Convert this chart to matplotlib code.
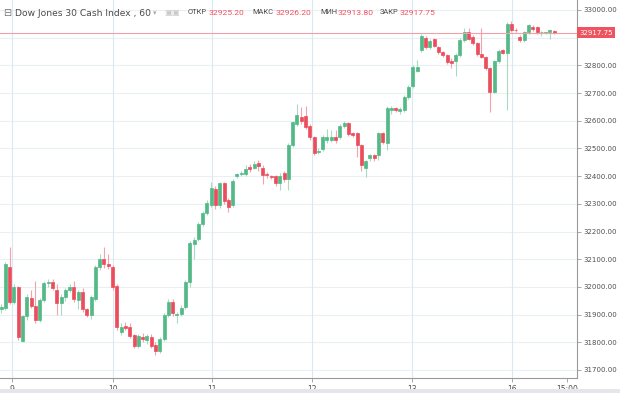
import matplotlib.pyplot as plt
import matplotlib.transforms as mtransforms
from matplotlib.patches import Rectangle

# hourly candles, oldest first
opens = [31920, 31923, 32073, 31947, 32001, 31803, 31895, 31960, 31931, 31881,
         31953, 32013, 32018, 31990, 31941, 31965, 31988, 31998, 31953, 31980,
         31921, 31899, 31955, 32073, 32100, 32083, 32073, 32004, 31836, 31860,
         31855, 31826, 31787, 31820, 31808, 31820, 31790, 31770, 31812, 31899,
         31947, 31900, 31903, 31929, 32019, 32155, 32173, 32227, 32267, 32296,
         32355, 32296, 32375, 32312, 32296, 32400, 32406, 32408, 32433, 32430,
         32447, 32430, 32408, 32400, 32400, 32375, 32411, 32390, 32513, 32588,
         32614, 32617, 32581, 32542, 32488, 32498, 32530, 32532, 32542, 32542,
         32581, 32592, 32555, 32556, 32513, 32430, 32466, 32476, 32477, 32556,
         32520, 32637, 32645, 32636, 32639, 32685, 32726, 32781, 32856, 32898,
         32866, 32894, 32866, 32848, 32838, 32815, 32816, 32838, 32892, 32920,
         32903, 32881, 32841, 32830, 32790, 32704, 32816, 32855, 32845, 32949,
         32928, 32903, 32892, 32920, 32940, 32939, 32920, 32918, 32920, 32925.20]
highs = [31940, 32090, 32145, 32010, 32005, 31900, 31975, 31990, 32020, 31960,
         32020, 32030, 32030, 32010, 31975, 31995, 32010, 32020, 31990, 31995,
         31925, 31970, 32080, 32120, 32145, 32120, 32080, 32010, 31870, 31875,
         31870, 31830, 31830, 31835, 31830, 31830, 31800, 31820, 31905, 31955,
         31955, 31910, 31935, 32025, 32165, 32180, 32235, 32275, 32315, 32380,
         32365, 32380, 32380, 32320, 32390, 32410, 32420, 32440, 32445, 32455,
         32460, 32440, 32415, 32405, 32405, 32410, 32420, 32520, 32600, 32660,
         32650, 32655, 32590, 32545, 32500, 32550, 32570, 32565, 32565, 32590,
         32600, 32595, 32560, 32560, 32515, 32460, 32480, 32480, 32560, 32560,
         32655, 32655, 32650, 32648, 32692, 32730, 32800, 32820, 32912, 32905,
         32895, 32900, 32870, 32852, 32842, 32825, 32845, 32898, 32935, 32935,
         32910, 32885, 32935, 32835, 32795, 32820, 32858, 32860, 32955, 32960,
         32935, 32908, 32925, 32950, 32945, 32942, 32925, 32922, 32930, 32926.20]
lows = [31905, 31915, 31940, 31940, 31810, 31800, 31880, 31925, 31870, 31875,
        31945, 32000, 31990, 31900, 31900, 31950, 31980, 31945, 31920, 31910,
        31890, 31885, 31950, 32060, 32070, 32065, 31990, 31845, 31825, 31845,
        31815, 31780, 31780, 31800, 31795, 31780, 31755, 31760, 31805, 31890,
        31895, 31870, 31895, 31920, 32000, 32100, 32165, 32220, 32260, 32290,
        32280, 32285, 32300, 32270, 32290, 32395, 32400, 32400, 32415, 32425,
        32420, 32370, 32395, 32390, 32365, 32350, 32380, 32350, 32505, 32580,
        32590, 32570, 32530, 32475, 32480, 32490, 32520, 32525, 32520, 32535,
        32575, 32545, 32540, 32470, 32420, 32397, 32455, 32455, 32460, 32515,
        32495, 32625, 32630, 32625, 32630, 32680, 32720, 32775, 32850, 32860,
        32860, 32865, 32840, 32830, 32805, 32790, 32760, 32830, 32885, 32890,
        32875, 32835, 32825, 32785, 32632, 32700, 32810, 32840, 32640, 32920,
        32920, 32885, 32885, 32915, 32925, 32915, 32905, 32912, 32895, 32913.80]
closes = [31928, 32083, 31947, 32001, 31818, 31895, 31965, 31932, 31881, 31953,
          32015, 32018, 31995, 31941, 31965, 31988, 32000, 31955, 31983, 31920,
          31899, 31965, 32073, 32100, 32082, 32076, 31999, 31855, 31855, 31853,
          31823, 31787, 31823, 31812, 31822, 31787, 31768, 31812, 31899, 31947,
          31904, 31902, 31925, 32019, 32160, 32170, 32227, 32267, 32303, 32357,
          32296, 32375, 32310, 32290, 32384, 32406, 32412, 32426, 32426, 32444,
          32436, 32404, 32404, 32397, 32375, 32400, 32390, 32513, 32596, 32621,
          32600, 32578, 32542, 32484, 32492, 32542, 32542, 32540, 32530, 32581,
          32592, 32552, 32548, 32513, 32440, 32455, 32476, 32466, 32556, 32523,
          32645, 32645, 32638, 32641, 32687, 32723, 32794, 32794, 32906, 32866,
          32888, 32870, 32848, 32838, 32812, 32809, 32838, 32892, 32920, 32895,
          32881, 32841, 32830, 32790, 32704, 32816, 32852, 32845, 32949, 32928,
          32926, 32892, 32920, 32946, 32930, 32920, 32921, 32920, 32928, 32917.75]

last_price = 32917.75
day_ticks = [2.6, 26.0, 49.2, 72.5, 95.8, 119.1, 131.9]
day_labels = ["9", "10", "11", "12", "13", "16", "15:00"]
price_ticks = [31700, 31800, 31900, 32000, 32100, 32200, 32300, 32400, 32500,
               32600, 32700, 32800, 33000]
grid_prices = [31700, 31800, 31900, 32000, 32100, 32200, 32300, 32400, 32500,
               32600, 32700, 32800, 32900, 33000]

UP, DOWN = "#53b987", "#eb4d5c"
UP_WICK, DOWN_WICK = "#a6dcc2", "#f4a3ab"
TXT = "#4f4f4f"

fig = plt.figure(figsize=(6.2, 3.93), dpi=100)
ax = fig.add_axes([0, 15 / 393, 577 / 620, 378 / 393])

for p in grid_prices:
    ax.axhline(p, color="#eaeff3", lw=0.8, zorder=0)
for t in day_ticks[:-1]:
    ax.axvline(t, color="#dce8ef", lw=0.8, zorder=0)

for i, (o, h, l, c) in enumerate(zip(opens, highs, lows, closes)):
    up = c >= o
    ax.vlines(i, l, h, color=UP_WICK if up else DOWN_WICK, lw=0.8, zorder=2)
    col = UP if up else DOWN
    ax.bar(i, c - o, bottom=o, width=0.7, color=col, edgecolor=col,
           linewidth=0.5, zorder=3)

ax.axhline(last_price, color="#f2a0a8", lw=0.8, zorder=4)

ax.set_xlim(-0.25, 134.3)
ax.set_ylim(31671, 33036)

for s in ["top", "left"]:
    ax.spines[s].set_visible(False)
for s in ["right", "bottom"]:
    ax.spines[s].set_color("#9a9a9a")
    ax.spines[s].set_linewidth(0.8)

ax.yaxis.tick_right()
ax.set_yticks(price_ticks)
ax.set_yticklabels([f"{p:.2f}" for p in price_ticks])
ax.set_xticks(day_ticks)
ax.set_xticklabels(day_labels)
ax.tick_params(axis="y", length=3, width=0.6, color="#9a9a9a",
               labelsize=5, labelcolor=TXT, pad=1.5)
ax.tick_params(axis="x", length=3, width=0.6, color="#9a9a9a",
               labelsize=5.5, labelcolor=TXT, pad=2)

# last price tag on the price scale
trans = mtransforms.blended_transform_factory(ax.transAxes, ax.transData)
ax.text(1.004, last_price, f"{last_price:.2f}", transform=trans,
        ha="left", va="center", fontsize=5, color="white", zorder=6,
        bbox=dict(boxstyle="square,pad=0.35", fc="#ef5360", ec="none"),
        clip_on=False)

# header
hy = 1 - 13 / 393
fig.text(3 / 620, hy, "⊟", fontsize=7, color="#777777", va="center")
fig.text(15 / 620, hy, "Dow Jones 30 Cash Index , 60", fontsize=6.6,
         color="#4a4a4a", va="center")
fig.text(153 / 620, hy, "▾", fontsize=5, color="#aaaaaa", va="center")
fig.text(164 / 620, hy, "▣▣", fontsize=6, color="#c8c8c8", va="center")
header = [("ОТКР", 188, "32925.20", 209), ("МАКС", 252, "32926.20", 276),
          ("МИН", 320, "32913.80", 338), ("ЗАКР", 380, "32917.75", 400)]
for name, nx, val, vx in header:
    fig.text(nx / 620, hy, name, fontsize=5.4, color="#4a4a4a", va="center",
             family="Roboto")
    fig.text(vx / 620, hy, val, fontsize=6.1, color="#ef5360", va="center",
             family="Roboto")

fig.patches.append(Rectangle((0, 0), 1, 4 / 393, transform=fig.transFigure,
                             fc="#e4e6ea", ec="none"))

fig.savefig("out.png", dpi=100)
